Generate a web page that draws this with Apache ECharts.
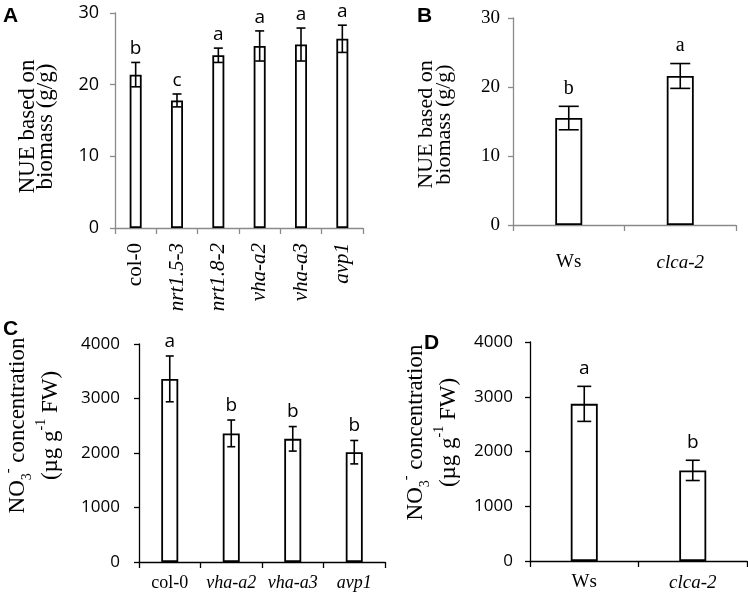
<!DOCTYPE html>
<html>
<head>
<meta charset="utf-8">
<script src="https://cdn.jsdelivr.net/npm/echarts@6/dist/echarts.min.js"></script>
<style>
  html, body { margin: 0; padding: 0; background: #fff; }
  #main { width: 748px; height: 592px; }
</style>
</head>
<body>
<div id="main"></div>
<script>
// panel A: NUE, six lines
const catA = ['col-0', 'nrt1.5-3', 'nrt1.8-2', 'vha-a2', 'vha-a3', 'avp1'];
const nueA = [21.4, 17.8, 24.1, 25.4, 25.6, 26.4];
const errA = [1.7, 0.9, 1.0, 2.1, 2.3, 1.9];
const sigA = ['b', 'c', 'a', 'a', 'a', 'a'];
// panel B: NUE, Ws background
const catB = ['Ws', 'clca-2'];
const nueB = [15.5, 21.6];
const errB = [1.7, 1.8];
const sigB = ['b', 'a'];
// panel C: nitrate
const catC = ['col-0', 'vha-a2', 'vha-a3', 'avp1'];
const no3C = [3360, 2360, 2260, 2015];
const errC = [420, 245, 225, 215];
const sigC = ['a', 'b', 'b', 'b'];
// panel D: nitrate, Ws background
const catD = ['Ws', 'clca-2'];
const no3D = [2870, 1655];
const errD = [320, 185];
const sigD = ['a', 'b'];

const plainNames = ['col-0', 'Ws'];
const serif = 'Liberation Serif';
const sans = 'Open Sans';
const grey = '#8a8a8a';

// x labels: wild type upright, mutants italic
function xLab(v) {
  return plainNames.indexOf(v) >= 0 ? '{n|' + v + '}' : '{i|' + v + '}';
}
function xRich(size) {
  return {
    n: { fontFamily: serif, fontSize: size, color: '#000' },
    i: { fontFamily: serif, fontSize: size, fontStyle: 'italic', color: '#000' }
  };
}

// error bars + significance letters
function errItem(errs, sigs, cap, fam, size, lift) {
  return function (params, api) {
    const i = params.dataIndex;
    const v = api.value(1), e = errs[i];
    const hi = api.coord([i, v + e]);
    const lo = api.coord([i, v - e]);
    const x = hi[0], h = cap / 2;
    const st = { stroke: '#000', lineWidth: 1.6 };
    return {
      type: 'group',
      children: [
        { type: 'line', shape: { x1: x, y1: hi[1], x2: x, y2: lo[1] }, style: st },
        { type: 'line', shape: { x1: x - h, y1: hi[1], x2: x + h, y2: hi[1] }, style: st },
        { type: 'line', shape: { x1: x - h, y1: lo[1], x2: x + h, y2: lo[1] }, style: st },
        {
          type: 'text', x: x, y: hi[1] - lift,
          style: { text: sigs[i], align: 'center', verticalAlign: 'bottom',
                   fontFamily: fam, fontSize: size, fill: '#000' }
        }
      ]
    };
  };
}

function no3Style(shift) {
  return {
    padding: [0, 0, 0, shift],
    rich: {
      t: { fontFamily: serif, fontSize: 23, lineHeight: 33, color: '#000' },
      sb: { fontFamily: serif, fontSize: 14, lineHeight: 13, verticalAlign: 'bottom', color: '#000' },
      sp: { fontFamily: serif, fontSize: 14, lineHeight: 6, verticalAlign: 'top', color: '#000' }
    }
  };
}
const no3Name = '{t|NO}{sb|3}{sp|-}{t| concentration}\n{t|(µg g}{sp|-1}{t| FW)}';

function yAx(idx, max, step, col, lab, margin, name, nameStyle, gap) {
  return {
    gridIndex: idx, type: 'value', min: 0, max: max, interval: step,
    axisLine: { show: true, lineStyle: { color: col, width: 1.3 } },
    axisTick: { show: true, length: 5, lineStyle: { color: col, width: 1.3 } },
    splitLine: { show: false },
    axisLabel: Object.assign({ color: '#000', margin: margin, formatter: v => String(v) }, lab),
    name: name, nameLocation: 'middle', nameRotate: 90, nameGap: gap,
    nameTextStyle: nameStyle
  };
}
function xAx(idx, cats, col, size, margin, rot) {
  return {
    gridIndex: idx, type: 'category', data: cats,
    axisLine: { show: true, lineStyle: { color: col, width: 1.3 } },
    axisTick: { show: true, length: 6, lineStyle: { color: col, width: 1.3 } },
    axisLabel: { formatter: xLab, rich: xRich(size), margin: margin, rotate: rot, interval: 0 }
  };
}

const barStyle = { color: '#fff', borderColor: '#000', borderWidth: 1.8 };

const chart = echarts.init(document.getElementById('main'));
chart.setOption({
  animation: false,
  backgroundColor: '#fff',
  grid: [
    { left: 115, top: 13, width: 248, height: 215 },
    { left: 513, top: 18, width: 223, height: 207 },
    { left: 137, top: 344, width: 248, height: 219 },
    { left: 530, top: 342, width: 217, height: 220 }
  ],
  xAxis: [
    xAx(0, catA, grey, 21, 15, 90),
    xAx(1, catB, grey, 19, 28, 0),
    xAx(2, catC, '#000', 18, 12, 0),
    xAx(3, catD, '#000', 19, 12, 0)
  ],
  yAxis: [
    yAx(0, 30, 10, grey, { fontFamily: sans, fontSize: 18 }, 16,
        'NUE based on\nbiomass (g/g)',
        { fontFamily: serif, fontSize: 23, lineHeight: 18, color: '#000', padding: [0, 12, 0, 0] }, 60),
    yAx(1, 30, 10, grey, { fontFamily: serif, fontSize: 19 }, 13,
        'NUE based on\nbiomass (g/g)',
        { fontFamily: serif, fontSize: 22, lineHeight: 18, color: '#000', padding: [0, 6, 0, 0] }, 60),
    yAx(2, 4000, 1000, '#000', { fontFamily: sans, fontSize: 17 }, 19, no3Name, no3Style(55), 72),
    yAx(3, 4000, 1000, '#000', { fontFamily: sans, fontSize: 17 }, 17, no3Name, no3Style(38), 65)
  ],
  series: [
    { type: 'bar', xAxisIndex: 0, yAxisIndex: 0, data: nueA, barWidth: 12, itemStyle: barStyle },
    { type: 'bar', xAxisIndex: 1, yAxisIndex: 1, data: nueB, barWidth: 27, itemStyle: barStyle },
    { type: 'bar', xAxisIndex: 2, yAxisIndex: 2, data: no3C, barWidth: 17, itemStyle: barStyle },
    { type: 'bar', xAxisIndex: 3, yAxisIndex: 3, data: no3D, barWidth: 27, itemStyle: barStyle },
    { type: 'custom', xAxisIndex: 0, yAxisIndex: 0, z: 5, encode: { x: 0, y: 1 },
      data: nueA.map((v, i) => [i, v]), renderItem: errItem(errA, sigA, 9, sans, 19, 4) },
    { type: 'custom', xAxisIndex: 1, yAxisIndex: 1, z: 5, encode: { x: 0, y: 1 },
      data: nueB.map((v, i) => [i, v]), renderItem: errItem(errB, sigB, 20, serif, 20, 8) },
    { type: 'custom', xAxisIndex: 2, yAxisIndex: 2, z: 5, encode: { x: 0, y: 1 },
      data: no3C.map((v, i) => [i, v]), renderItem: errItem(errC, sigC, 8, sans, 19, 5) },
    { type: 'custom', xAxisIndex: 3, yAxisIndex: 3, z: 5, encode: { x: 0, y: 1 },
      data: no3D.map((v, i) => [i, v]), renderItem: errItem(errD, sigD, 14, sans, 19, 8) }
  ],
  graphic: [
    { type: 'text', left: 3, top: 6, style: { text: 'A', font: 'bold 21px "Liberation Sans"', fill: '#000' } },
    { type: 'text', left: 417, top: 6, style: { text: 'B', font: 'bold 21px "Liberation Sans"', fill: '#000' } },
    { type: 'text', left: 3, top: 319, style: { text: 'C', font: 'bold 21px "Liberation Sans"', fill: '#000' } },
    { type: 'text', left: 424, top: 333, style: { text: 'D', font: 'bold 21px "Liberation Sans"', fill: '#000' } }
  ]
});
</script>
</body>
</html>
